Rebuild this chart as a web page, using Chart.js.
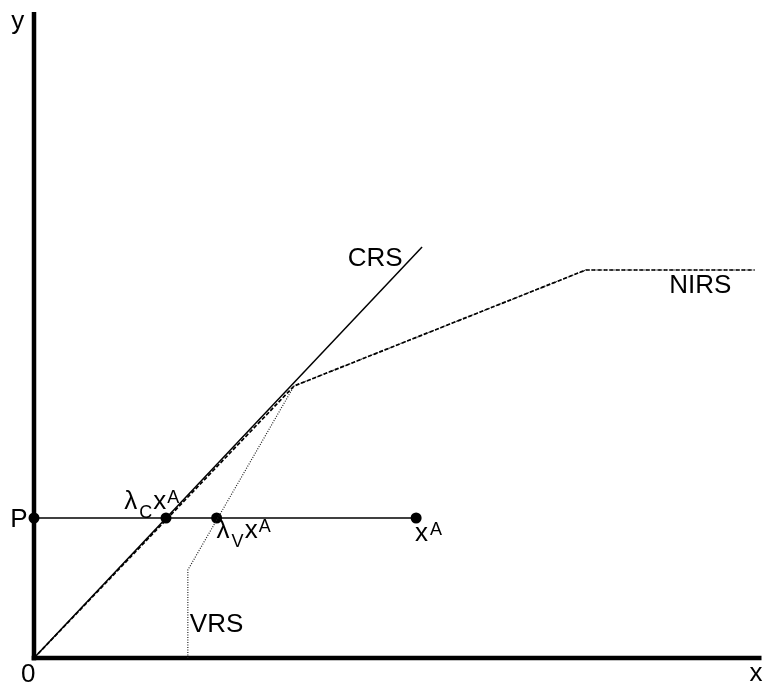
<!DOCTYPE html>
<html>
<head>
<meta charset="utf-8">
<title>Returns to scale: CRS, NIRS and VRS frontiers</title>
<script src="https://cdn.jsdelivr.net/npm/chart.js@4/dist/chart.umd.min.js"></script>
<style>
  html, body { margin: 0; padding: 0; background: #fff; }
  #wrap { width: 767px; height: 683px; }
</style>
</head>
<body>
<div id="wrap"><canvas id="c" width="767" height="683"></canvas></div>
<script>
// Frontier vertices (input x, output y)
const crsX  = [0, 39.1];
const crsY  = [0, 41.1];
const nirsX = [0, 26.2, 55.6, 72.6];
const nirsY = [0, 27.2, 38.8, 38.8];
const vrsX  = [15.5, 15.5, 26.2, 55.6, 72.6];
const vrsY  = [0, 8.8, 27.2, 38.8, 38.8];

// Firm A's output level and its projections
const outputP   = 14.0;
const pointX    = [0, 13.3, 18.4, 38.5];
const pointName = ['P', 'λCxA', 'λVxA', 'xA'];

const X_MAX = 73.3;
const Y_MAX = 64.8;
const FONT = '"Liberation Sans", Arial, Helvetica, sans-serif';

const pts = (xs, ys) => xs.map((x, i) => ({ x, y: ys[i] }));

// Axes drawn through the chart's own scales
const axesPlugin = {
  id: 'axes',
  beforeDatasetsDraw(chart) {
    const { ctx, scales: { x, y } } = chart;
    const x0 = x.getPixelForValue(0), y0 = y.getPixelForValue(0);
    ctx.save();
    ctx.strokeStyle = '#000';
    ctx.lineWidth = 4.5;
    ctx.lineCap = 'butt';
    ctx.beginPath();
    ctx.moveTo(x0, y.getPixelForValue(64.6));
    ctx.lineTo(x0, y0 + 2.5);
    ctx.moveTo(x0 - 2.5, y0);
    ctx.lineTo(x.getPixelForValue(X_MAX), y0);
    ctx.stroke();
    ctx.restore();
  }
};

// Text: axis names, frontier names and the point labels with sub/superscripts
const labelsPlugin = {
  id: 'labels',
  afterDraw(chart) {
    const { ctx, scales: { x, y } } = chart;
    const px = v => x.getPixelForValue(v);
    const py = v => y.getPixelForValue(v);
    ctx.save();
    ctx.fillStyle = '#000';
    ctx.textBaseline = 'alphabetic';
    ctx.textAlign = 'left';
    const big = '26px ' + FONT, small = '18px ' + FONT;

    const put = (txt, xv, yv) => {
      ctx.font = big;
      ctx.fillText(txt, px(xv), py(yv));
    };
    // compound label: base, subscript, base, superscript (each part may add a little gap)
    const compound = (parts, xv, yv) => {
      let cx = px(xv);
      const by = py(yv);
      parts.forEach(([txt, kind, gap]) => {
        ctx.font = kind === 'n' ? big : small;
        const dy = kind === 'sub' ? 9 : kind === 'sup' ? -6 : 0;
        cx += gap || 0;
        ctx.fillText(txt, cx, by + dy);
        cx += ctx.measureText(txt).width;
      });
    };

    put('y', -2.3, 62.9);
    put('0', -1.3, -2.4);
    put('x', 72.1, -2.3);
    put('CRS', 31.6, 39.2);
    put('NIRS', 64.0, 36.5);
    put('VRS', 15.7, 2.6);
    put(pointName[0], -2.4, outputP - 0.9);

    compound([['λ', 'n', 0], ['C', 'sub', 2], ['x', 'n', 1], ['A', 'sup', 1]], 9.1, outputP + 0.9);
    compound([['λ', 'n', 0], ['V', 'sub', 2], ['x', 'n', 1], ['A', 'sup', 1]], 18.4, outputP - 2.0);
    compound([['x', 'n', 0], ['A', 'sup', 2]], 38.4, outputP - 2.3);
    ctx.restore();
  }
};

new Chart(document.getElementById('c'), {
  type: 'scatter',
  data: {
    datasets: [
      {
        label: 'CRS',
        data: pts(crsX, crsY),
        showLine: true,
        borderColor: '#000',
        borderWidth: 1.5,
        pointRadius: 0,
        clip: false
      },
      {
        label: 'NIRS',
        data: pts(nirsX, nirsY),
        showLine: true,
        borderColor: '#000',
        borderWidth: 1.7,
        borderDash: [4, 2],
        pointRadius: 0,
        clip: false
      },
      {
        label: 'VRS',
        data: pts(vrsX, vrsY),
        showLine: true,
        borderColor: '#222',
        borderWidth: 1.2,
        borderDash: [1, 1.5],
        pointRadius: 0,
        clip: false
      },
      {
        label: 'Output level',
        data: [{ x: pointX[0], y: outputP }, { x: pointX[3], y: outputP }],
        showLine: true,
        borderColor: '#000',
        borderWidth: 1.3,
        pointRadius: 0,
        clip: false
      },
      {
        label: 'Points',
        data: pointX.map(v => ({ x: v, y: outputP })),
        showLine: false,
        pointRadius: 5.5,
        pointBackgroundColor: '#000',
        pointBorderColor: '#000',
        pointBorderWidth: 0,
        clip: false
      }
    ]
  },
  options: {
    responsive: false,
    animation: false,
    devicePixelRatio: 1,
    layout: { padding: { left: 34, right: 0, top: 10, bottom: 25 } },
    plugins: {
      legend: { display: false },
      tooltip: { enabled: false }
    },
    scales: {
      x: { type: 'linear', min: 0, max: X_MAX, display: false },
      y: { type: 'linear', min: 0, max: Y_MAX, display: false }
    }
  },
  plugins: [axesPlugin, labelsPlugin]
});
</script>
</body>
</html>
